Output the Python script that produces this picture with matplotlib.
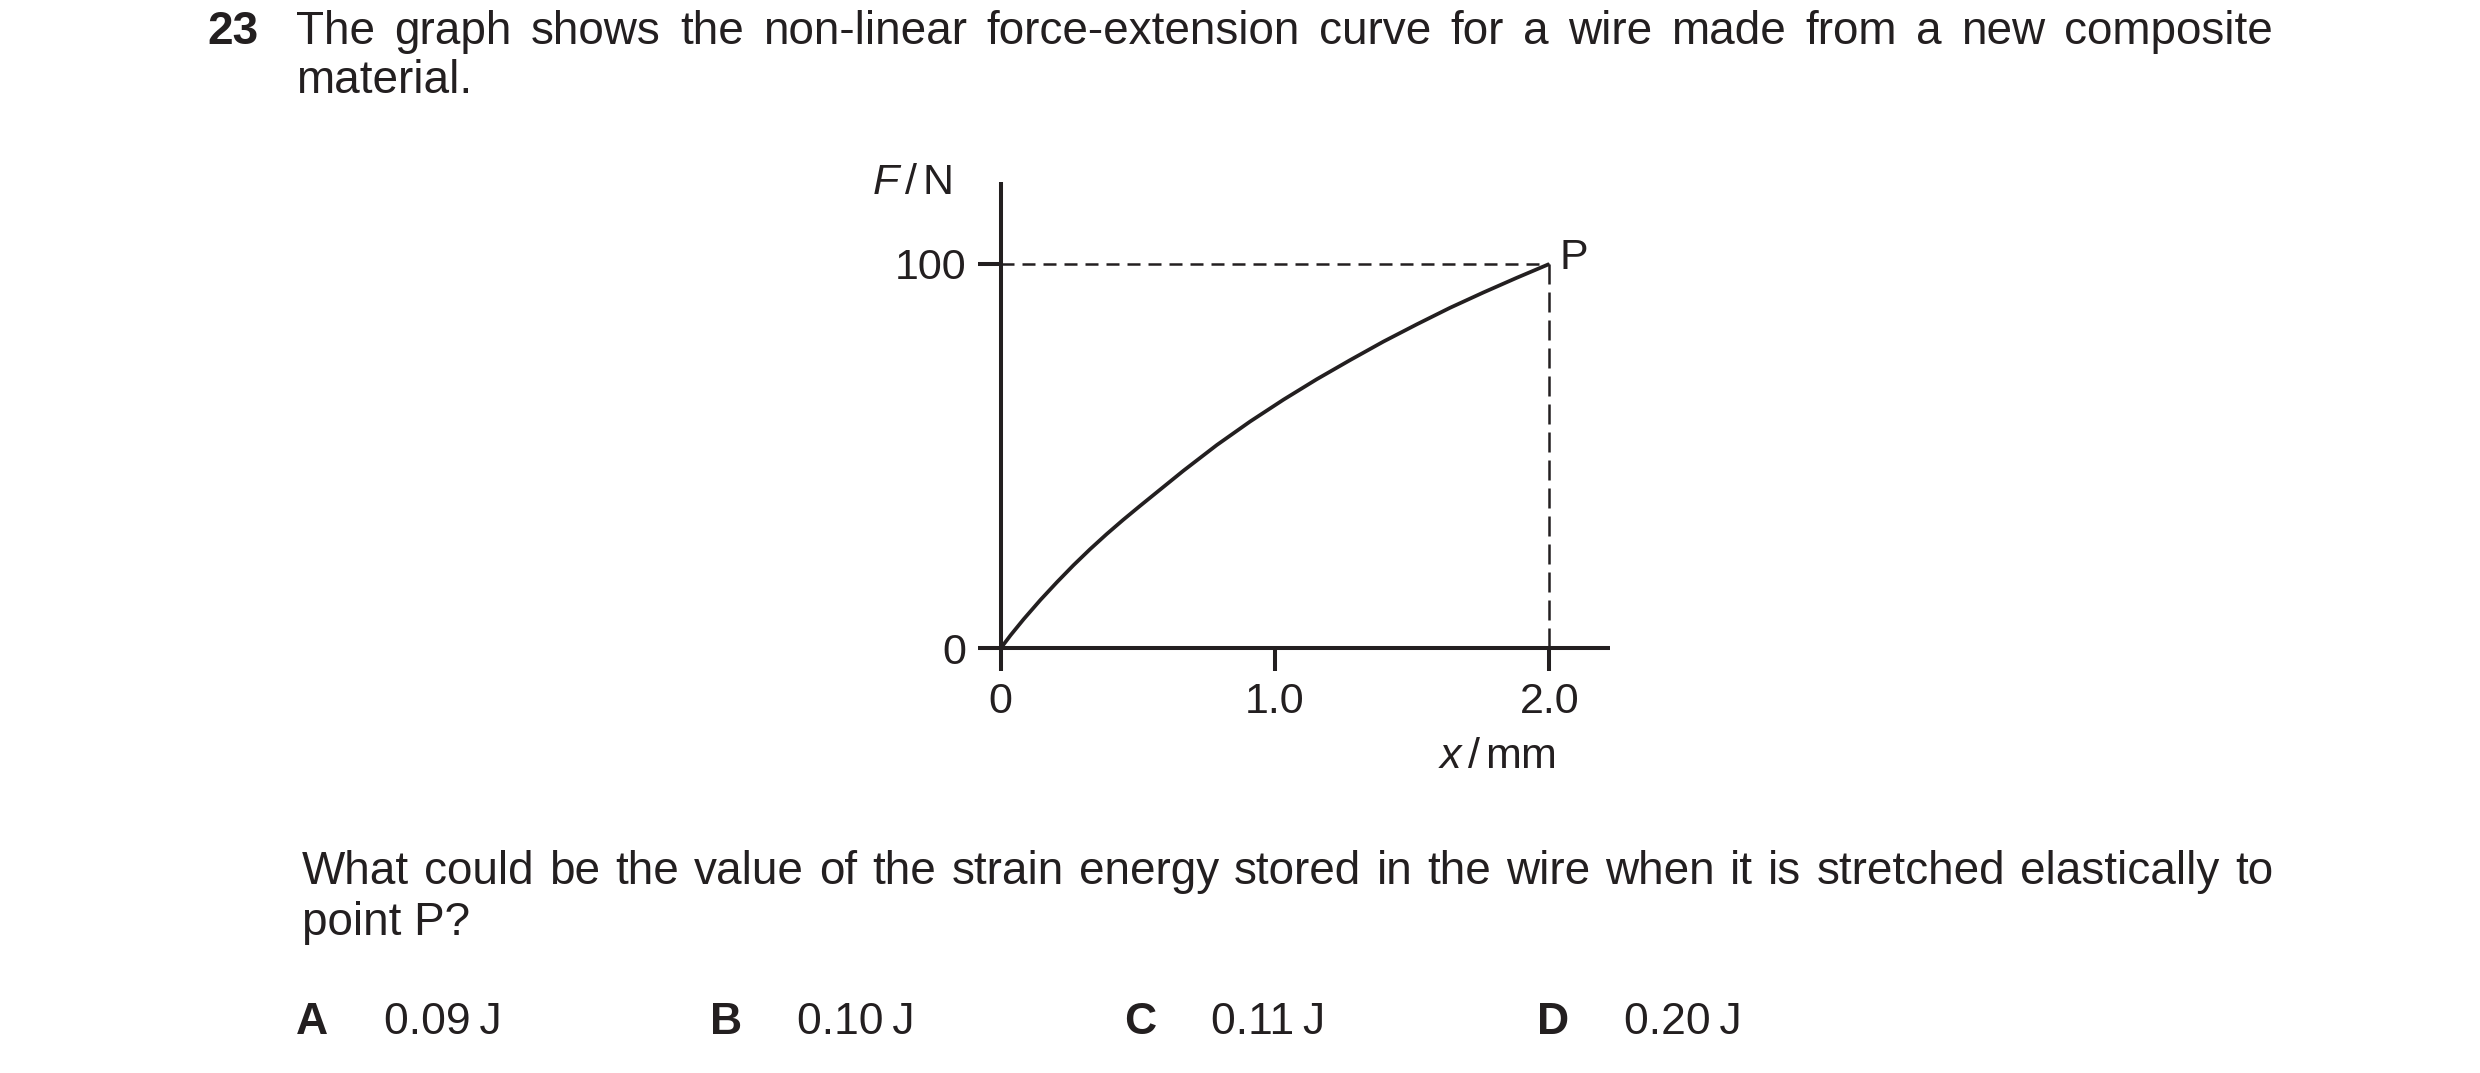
import numpy as np
import matplotlib
matplotlib.use("Agg")
import matplotlib.pyplot as plt

plt.rcParams['font.family'] = ['Liberation Sans', 'DejaVu Sans']
plt.rcParams['mathtext.fontset'] = 'custom'
plt.rcParams['mathtext.rm'] = 'Liberation Sans'
plt.rcParams['mathtext.it'] = 'Liberation Sans:italic'

# force-extension curve
extension_mm = [0, 0.036, 0.084, 0.145, 0.205, 0.265, 0.326, 0.386, 0.446,
                0.507, 0.666, 0.788, 0.909, 1.031, 1.152, 1.274,
                1.395, 1.517, 1.638, 1.760, 1.881, 2.0]
force_N = [0, 3.4, 7.6, 12.6, 17.2, 21.6, 25.8, 29.7, 33.4,
           37.0, 46.2, 52.9, 59.0, 64.7, 70.0, 75.0,
           79.8, 84.3, 88.6, 92.6, 96.4, 100]
point_p = (2.0, 100)

x_ticks = [0, 1.0, 2.0]
x_tick_labels = ['0', '1.0', '2.0']
y_ticks = [0, 100]
y_tick_labels = ['0', '100']

question_line1 = "The graph shows the non-linear force-extension curve for a wire made from a new composite"
question_line2 = "material."
ask_line1 = "What could be the value of the strain energy stored in the wire when it is stretched elastically to"
ask_line2 = "point P?"
option_letters = ['A', 'B', 'C', 'D']
option_values = ['0.09\u2009J', '0.10\u2009J', '0.11\u2009J', '0.20\u2009J']

W, H = 2480, 1073
FS = 33       # body text
FS_OPT = 32   # answer options
FS_AX = 31    # graph labels
INK = '#231f20'
fig = plt.figure(figsize=(W / 100, H / 100), dpi=100)
renderer = fig.canvas.get_renderer()


def fx(px):
    return px / W


def fy(py):
    return 1 - py / H


def justify(text, x0, x1, y, size=FS):
    words = text.split()
    items = [fig.text(0, 0, w, fontsize=size, va='baseline', color=INK) for w in words]
    widths = [t.get_window_extent(renderer).width for t in items]
    gap = (x1 - x0 - sum(widths)) / (len(words) - 1)
    x = x0
    for t, w in zip(items, widths):
        t.set_position((fx(x), fy(y)))
        x += w + gap


# question text
fig.text(fx(207), fy(44), '23', fontsize=FS, fontweight='bold', va='baseline', color=INK)
justify(question_line1, 296, 2273, 44)
fig.text(fx(296), fy(93), question_line2, fontsize=FS, va='baseline', color=INK)

justify(ask_line1, 302, 2273, 884)
fig.text(fx(302), fy(935), ask_line2, fontsize=FS, va='baseline', color=INK)

letter_x = [296, 710, 1124, 1537]
value_x = [384, 797, 1211, 1624]
for lx, vx, letter, val in zip(letter_x, value_x, option_letters, option_values):
    fig.text(fx(lx), fy(1034), letter, fontsize=FS_OPT, fontweight='bold',
             va='baseline', color=INK)
    fig.text(fx(vx), fy(1034), val, fontsize=FS_OPT, va='baseline', color=INK)

# graph axes: x=0 at px 1000.7, x=2 at px 1549.3; F=0 at py 648.3, F=100 at py 264
x0_px, y0_px = 1000.7, 648.3
sx = 274.3
sy = 3.843
xlim = (-0.1, 2.3)
ylim = (-10, 125)
left = x0_px + sx * xlim[0]
right = x0_px + sx * xlim[1]
bottom = y0_px - sy * ylim[0]
top = y0_px - sy * ylim[1]
ax = fig.add_axes([fx(left), fy(bottom), (right - left) / W, (bottom - top) / H])
ax.set_xlim(*xlim)
ax.set_ylim(*ylim)
ax.patch.set_visible(False)

lw_axis = 2.9
for side in ['top', 'right']:
    ax.spines[side].set_visible(False)
ax.spines['left'].set_position(('data', 0))
ax.spines['bottom'].set_position(('data', 0))
ax.spines['left'].set_bounds(0, (y0_px - 182) / sy)
ax.spines['bottom'].set_bounds(0, (1610 - x0_px) / sx)
for side in ['left', 'bottom']:
    ax.spines[side].set_linewidth(lw_axis)
    ax.spines[side].set_color(INK)
    ax.spines[side].set_capstyle('butt')

ax.set_xticks(x_ticks)
ax.set_xticklabels(x_tick_labels)
ax.set_yticks(y_ticks)
ax.set_yticklabels(y_tick_labels)
ax.tick_params(direction='out', length=16.5, width=lw_axis, color=INK,
               labelcolor=INK, labelsize=FS_AX, pad=8)

ax.plot(extension_mm, force_N, color=INK, lw=2.7, solid_capstyle='butt',
        solid_joinstyle='round')
ax.plot([0, point_p[0]], [point_p[1], point_p[1]], color=INK, lw=1.8,
        dashes=(5.2, 3.2))
ax.plot([point_p[0], point_p[0]], [point_p[1], 0], color=INK, lw=1.8,
        dashes=(8.0, 3.2))
ax.annotate('P', point_p, xytext=(7, 4), textcoords='offset points',
            fontsize=FS_AX, va='center', ha='left', color=INK)

fig.text(fx(912), fy(183), r'$F\,/\,\mathrm{N}$', fontsize=FS_AX, ha='center',
         va='center', color=INK)
fig.text(fx(1497), fy(757), r'$x\,/\,\mathrm{mm}$', fontsize=FS_AX, ha='center',
         va='center', color=INK)

fig.savefig('out.png', dpi=100)
